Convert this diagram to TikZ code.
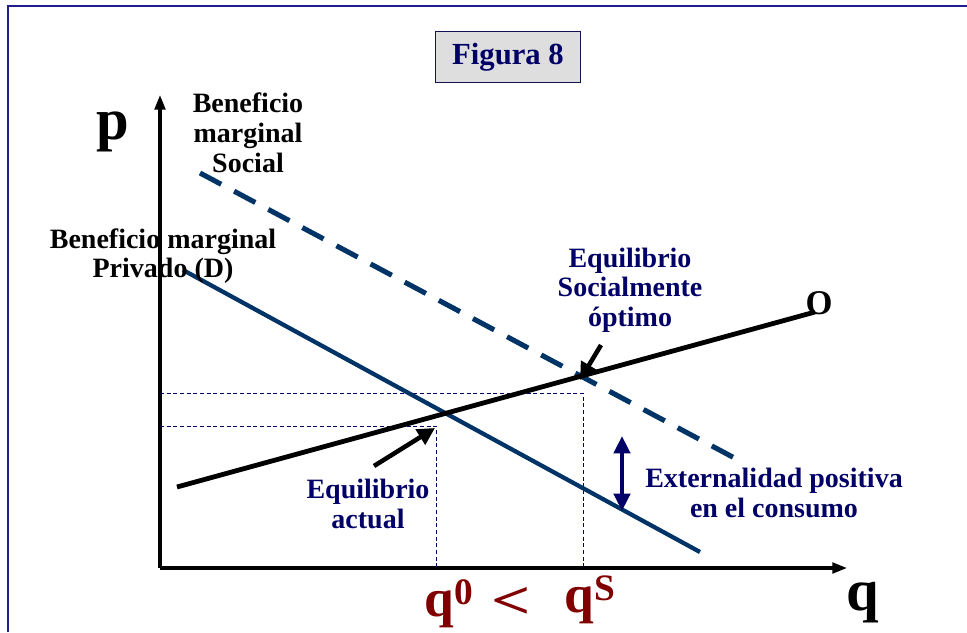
\documentclass[tikz,border=0pt]{standalone}
\usepackage{fontspec}
\setmainfont{Liberation Serif}
\usetikzlibrary{arrows.meta}
\definecolor{navytxt}{RGB}{0,0,102}
\definecolor{steel}{RGB}{0,51,102}
\definecolor{darkred}{RGB}{128,0,0}
\definecolor{framecol}{RGB}{30,30,140}
\tikzset{
  lbl/.style={font=\bfseries\fontsize{21}{22.3}\selectfont, align=center, inner sep=0pt},
  navylbl/.style={lbl, text=navytxt},
  big/.style={font=\bfseries\fontsize{44}{46}\selectfont, inner sep=0pt},
  qlbl/.style={font=\bfseries\fontsize{40}{44}\selectfont, inner sep=0pt, text=darkred},
  axis/.style={line width=2.3pt, -{Triangle[length=11pt,width=8pt]}},
  guide/.style={navytxt, line width=0.6pt, dash pattern=on 3pt off 2pt},
  callout/.style={line width=3.4pt, -{Triangle[length=13pt,width=13pt]}},
}
\begin{document}
\begin{tikzpicture}[x=0.75pt,y=-0.75pt]
\useasboundingbox (0,0) rectangle (967,632);
% frame
\draw[framecol, line width=1.3pt] (8,632) -- (8,6) -- (967,6);
% title
\node[draw=framecol!60!black, line width=1pt, fill=black!13, minimum width=109pt, minimum height=38pt,
      font=\bfseries\fontsize{23}{26}\selectfont, text=navytxt] (title) at (508,57) {Figura 8};
% axes
\coordinate (O) at (160,568);
\coordinate (ytop) at (160,95);
\coordinate (xend) at (847,568);
\draw[axis] (O) -- (ytop);
\draw[axis] (O) -- (xend);
\node[big] (p) at (113,132) {p};
\node[big] (q) at (863,603) {q};
% guide lines
\coordinate (gs1) at (160,393);
\coordinate (gs2) at (583,393);
\coordinate (gs3) at (583,568);
\coordinate (g01) at (160,426);
\coordinate (g02) at (436,426);
\coordinate (g03) at (436,568);
\draw[guide] (gs1) -- (gs2) -- (gs3);
\draw[guide] (g01) -- (g02) -- (g03);
% curves
\coordinate (bms1) at (200,173);
\coordinate (bms2) at (742,462);
\draw[steel, line width=3.8pt, dash pattern=on 18pt off 11pt] (bms1) -- (bms2);
\coordinate (d1) at (183,270);
\coordinate (d2) at (700,552);
\draw[steel, line width=3.2pt] (d1) -- (d2);
\coordinate (s1) at (177,487);
\coordinate (s2) at (815,312);
\draw[black, line width=3.6pt] (s1) -- (s2);
\node[font=\bfseries\fontsize{26}{28}\selectfont, inner sep=0pt] (olab) at (819,303) {O};
% labels
\node[lbl] (bmslab) at (248,133) {Beneficio\\marginal\\Social};
\node[lbl] (bmplab) at (163,256) {Beneficio marginal\\Privado (D)};
\node[navylbl] (eqso) at (630,290) {Equilibrio\\Socialmente\\óptimo};
\node[navylbl] (eqac) at (368,504) {Equilibrio\\actual};
\node[navylbl] (ext) at (774,493) {Externalidad positiva\\en el consumo};
% callout arrows
\coordinate (a1s) at (601,345);
\coordinate (a1e) at (580,380);
\draw[callout] (a1s) -- (a1e);
\coordinate (a2s) at (374,466);
\coordinate (a2e) at (435,428);
\draw[callout] (a2s) -- (a2e);
\coordinate (e1) at (622,436);
\coordinate (e2) at (622,511);
\draw[navytxt, line width=3.2pt, {Triangle[length=13pt,width=12pt]}-{Triangle[length=13pt,width=12pt]}] (e1) -- (e2);
% q labels
\node[qlbl] (q0) at (449,604) {q\textsuperscript{0}};
\node[qlbl, xscale=1.3] (lt) at (511,603) {<};
\node[qlbl] (qs) at (590,600) {q\textsuperscript{S}};
\end{tikzpicture}
\end{document}
